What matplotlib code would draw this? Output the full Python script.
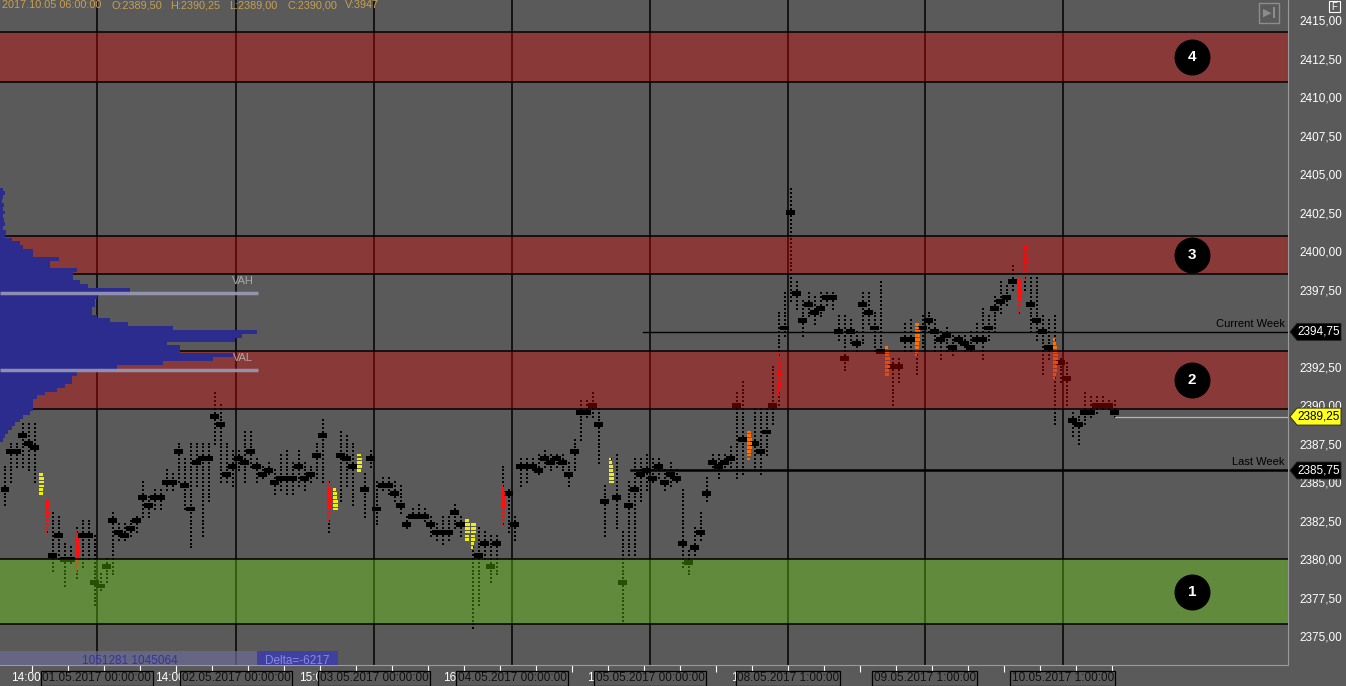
import numpy as np
import matplotlib
matplotlib.use('Agg')
import matplotlib.pyplot as plt
import matplotlib.transforms as mtransforms
from matplotlib.patches import Polygon, Rectangle

# footprint bars (one bar per column): high, low, point of control
bar_hi = [2386.0, 2387.5, 2387.5, 2388.75, 2388.75, 2388.75, 2385.5, 2383.75, 2383.0, 2382.75,
          2381.0, 2380.75, 2382.0, 2382.5, 2382.5, 2381.5, 2379.0, 2380.0, 2383.0, 2382.25,
          2382.25, 2382.5, 2382.75, 2385.0, 2384.0, 2384.5, 2384.5, 2385.75, 2385.5, 2387.5,
          2386.5, 2387.5, 2387.5, 2387.5, 2387.5, 2390.75, 2390.0, 2387.5, 2387.0, 2387.0,
          2388.25, 2388.25, 2386.5, 2386.0, 2386.25, 2385.75, 2386.75, 2387.0, 2386.25, 2387.0,
          2386.25, 2386.0, 2387.5, 2389.0, 2385.0, 2384.5, 2388.25, 2388.0, 2387.5, 2386.75,
          2385.5, 2387.0, 2385.0, 2385.25, 2385.25, 2385.0, 2384.75, 2382.75, 2383.25, 2383.5,
          2383.25, 2382.75, 2382.25, 2382.75, 2382.75, 2383.5, 2382.75, 2382.5, 2382.25, 2382.0,
          2381.75, 2381.5, 2381.5, 2386.0, 2384.5, 2382.75, 2386.5, 2386.5, 2386.5, 2386.75,
          2387.0, 2386.75, 2386.75, 2386.75, 2386.25, 2387.75, 2390.25, 2390.25, 2390.75, 2389.75,
          2384.75, 2386.5, 2386.75, 2381.75, 2385.0, 2386.5, 2386.5, 2386.75, 2386.5, 2386.5,
          2385.75, 2386.25, 2385.75, 2384.5, 2380.5, 2382.0, 2383.0, 2385.25, 2386.75, 2386.75,
          2386.75, 2387.25, 2390.75, 2391.5, 2388.25, 2389.75, 2389.75, 2389.75, 2392.5, 2396.0,
          2397.25, 2404.0, 2398.0, 2396.75, 2397.25, 2397.0, 2397.25, 2397.25, 2397.25, 2395.75,
          2395.75, 2395.5, 2394.75, 2397.25, 2397.25, 2396.0, 2398.0, 2393.75, 2393.0, 2393.0,
          2395.25, 2395.5, 2395.25, 2395.75, 2396.0, 2395.5, 2394.75, 2395.0, 2394.5, 2394.5,
          2394.5, 2394.75, 2395.25, 2396.25, 2395.75, 2397.0, 2398.0, 2397.75, 2399.0, 2398.25,
          2400.25, 2398.25, 2398.25, 2395.75, 2395.5, 2395.75, 2393.0, 2392.75, 2389.5, 2389.25,
          2390.75, 2390.5, 2390.5, 2390.5, 2390.25, 2390.25]
bar_lo = [2383.5, 2385.0, 2386.0, 2386.0, 2385.75, 2385.0, 2384.25, 2381.75, 2379.25, 2380.0,
          2378.25, 2379.75, 2378.75, 2379.5, 2380.0, 2377.0, 2378.0, 2378.5, 2379.0, 2381.25,
          2381.25, 2381.5, 2381.75, 2382.75, 2382.75, 2383.25, 2383.25, 2384.5, 2384.5, 2385.0,
          2383.25, 2380.75, 2384.75, 2381.5, 2383.75, 2387.5, 2385.0, 2385.0, 2384.75, 2385.75,
          2385.0, 2386.0, 2385.0, 2385.25, 2385.5, 2384.25, 2384.5, 2384.25, 2384.25, 2384.75,
          2384.5, 2385.0, 2385.25, 2385.0, 2381.75, 2383.25, 2383.75, 2384.75, 2383.5, 2385.75,
          2382.75, 2386.0, 2382.25, 2384.5, 2384.25, 2383.75, 2383.0, 2382.0, 2382.75, 2382.75,
          2382.5, 2381.5, 2381.25, 2381.0, 2381.25, 2382.0, 2381.5, 2381.25, 2375.5, 2377.0,
          2380.0, 2378.5, 2379.0, 2382.25, 2381.75, 2381.25, 2384.75, 2385.0, 2385.75, 2385.5,
          2386.0, 2385.75, 2386.0, 2385.75, 2384.75, 2385.75, 2387.75, 2389.25, 2389.25, 2386.25,
          2381.5, 2385.0, 2382.0, 2376.0, 2380.25, 2380.25, 2383.75, 2384.5, 2385.0, 2385.25,
          2384.5, 2384.75, 2385.0, 2379.5, 2379.0, 2380.25, 2381.25, 2383.75, 2385.75, 2385.25,
          2386.0, 2386.0, 2385.25, 2385.5, 2386.5, 2385.75, 2385.5, 2386.75, 2388.75, 2390.0,
          2394.5, 2396.75, 2396.25, 2394.5, 2395.75, 2395.25, 2395.75, 2396.5, 2396.25, 2394.25,
          2392.25, 2394.0, 2393.5, 2394.0, 2395.25, 2393.5, 2393.5, 2392.0, 2390.0, 2391.5,
          2393.5, 2393.5, 2392.0, 2393.75, 2394.75, 2393.5, 2393.0, 2393.5, 2393.25, 2394.0,
          2393.5, 2393.5, 2394.0, 2393.0, 2394.25, 2394.75, 2396.0, 2396.5, 2397.5, 2396.0,
          2397.5, 2394.75, 2394.25, 2392.0, 2393.0, 2388.75, 2391.5, 2390.0, 2388.0, 2387.5,
          2388.75, 2389.25, 2389.5, 2389.75, 2389.75, 2389.25]
bar_poc = [2384.5, 2387.0, 2387.0, 2388.0, 2387.5, 2387.25, 2385.0, 2383.0, 2380.25, 2381.5,
           2380.0, 2380.0, 2380.5, 2381.5, 2381.5, 2378.5, 2378.25, 2379.5, 2382.5, 2381.75,
           2381.5, 2382.0, 2382.5, 2384.0, 2383.5, 2384.0, 2384.0, 2385.0, 2385.0, 2387.0,
           2384.75, 2383.25, 2386.25, 2386.5, 2386.5, 2389.25, 2388.75, 2385.5, 2386.0, 2386.5,
           2386.25, 2387.0, 2386.0, 2385.5, 2385.75, 2385.0, 2385.25, 2385.25, 2385.25, 2386.0,
           2385.25, 2385.5, 2386.75, 2388.0, 2383.75, 2383.5, 2386.75, 2386.5, 2386.0, 2386.25,
           2384.5, 2386.5, 2383.25, 2384.75, 2384.75, 2384.25, 2383.5, 2382.25, 2382.75, 2382.75,
           2382.75, 2382.25, 2381.75, 2381.75, 2381.75, 2383.0, 2382.25, 2382.0, 2382.0, 2380.25,
           2381.0, 2379.5, 2381.0, 2383.5, 2384.25, 2382.25, 2386.0, 2386.0, 2386.0, 2385.75,
           2386.5, 2386.25, 2386.5, 2386.25, 2385.5, 2387.0, 2389.5, 2389.5, 2390.0, 2388.75,
           2383.75, 2385.25, 2384.0, 2378.5, 2383.5, 2384.5, 2385.5, 2385.75, 2385.25, 2386.0,
           2385.0, 2385.5, 2385.25, 2381.0, 2379.75, 2380.75, 2381.75, 2384.25, 2386.25, 2386.0,
           2386.25, 2386.5, 2390.0, 2387.75, 2387.5, 2387.5, 2387.0, 2388.25, 2390.0, 2392.0,
           2395.0, 2402.5, 2397.25, 2395.5, 2396.5, 2396.0, 2396.25, 2397.0, 2397.0, 2394.75,
           2393.0, 2394.75, 2394.0, 2396.5, 2396.0, 2395.0, 2393.5, 2392.75, 2392.5, 2392.5,
           2394.25, 2394.25, 2394.5, 2395.0, 2395.5, 2394.75, 2394.25, 2394.5, 2393.75, 2394.25,
           2394.0, 2393.75, 2394.25, 2394.25, 2395.0, 2396.25, 2396.75, 2397.0, 2398.0, 2397.25,
           2399.5, 2396.5, 2395.5, 2394.75, 2393.75, 2393.0, 2392.75, 2391.75, 2389.0, 2388.75,
           2389.5, 2389.5, 2390.0, 2390.0, 2390.0, 2389.5]
# bars highlighted by the footprint (0-based bar index -> kind)
hl_idx = [6, 7, 12, 54, 55, 59, 77, 78, 83, 101, 124, 129, 147, 152, 169, 170, 175]
hl_kind = ['y', 'r', 'r', 'r', 'y', 'y', 'y', 'y', 'r', 'y', 'o', 'r', 'o', 'o', 'r', 'r', 'o']

# volume profile (left side)
prof_top = 2404.0
prof_vol = [3, 5, 3, 2, 4, 3, 5, 3, 4, 5, 3, 6, 5, 12, 20, 23, 33, 33, 59, 50,
            50, 77, 73, 73, 80, 88, 130, 130, 97, 95, 95, 92, 92, 97, 110, 128, 173, 257, 242, 235,
            167, 180, 180, 233, 213, 163, 117, 117, 77, 72, 72, 65, 57, 45, 37, 33, 33, 33, 30, 23,
            20, 15, 12, 8, 5, 3]
vah, val = 2397.25, 2392.25

# zones
zone_lo = [2375.75, 2389.75, 2398.5, 2411.0]
zone_hi = [2380.0, 2393.5, 2401.0, 2414.25]
zone_col = ['#6ee00c', '#e10000', '#e10000', '#e10000']
zone_num = ['1', '2', '3', '4']

current_week = 2394.75
last_week = 2385.75
last_price = 2389.25

session_x = [15.3, 38.5, 61.5, 84.5, 107.5, 130.5, 153.3, 176.3]
date_labels = ['01.05.2017 00:00:00', '02.05.2017 00:00:00', '03.05.2017 00:00:00',
               '04.05.2017 00:00:00', '05.05.2017 00:00:00', '08.05.2017 1:00:00',
               '09.05.2017 1:00:00', '10.05.2017 1:00:00']
time_x = [3.5, 27.5, 51.5, 75.5, 99.5, 123.5, 147.5, 171.5]
time_labels = ['14:00', '14:00', '15:00', '16:00', '17:00', '18:00', '19:00', '20:00']

W, H = 1346, 686
BG = '#5a5a5a'
plt.rcParams['font.family'] = ['Liberation Sans', 'DejaVu Sans']

fig = plt.figure(figsize=(W / 100, H / 100), dpi=100, facecolor=BG)
ax = fig.add_axes([0, 21 / H, 1288 / W, 665 / H])
ax.set_facecolor(BG)
ax.set_xlim(-5 / 6, 1283 / 6)
ax.set_ylim(2373.12, 2416.30)

n = len(bar_hi)
kinds = ['k'] * n
for i, k in zip(hl_idx, hl_kind):
    kinds[i] = k
cmap = {'k': 'black', 'y': '#f0f000', 'r': '#ff1010', 'o': '#ff7000'}

for i in range(n):
    lv = np.arange(bar_lo[i], bar_hi[i] + 0.01, 0.25)
    c = cmap[kinds[i]]
    ax.plot(np.full(len(lv), i), lv, 's', ms=1.6, mew=0, color='black', zorder=3)
    if kinds[i] == 'k':
        ax.add_patch(Rectangle((i - 0.75, bar_poc[i] - 0.16), 1.5, 0.32,
                               color='black', lw=0, zorder=3))
    else:
        for l in lv:
            d = abs(l - bar_poc[i])
            if d <= 1.25:
                ww = max(0.15, 1 - d / 1.4)
                ax.add_patch(Rectangle((i - 0.25, l - 0.09), 0.25 + 0.55 * ww, 0.18,
                                       color=c, lw=0, zorder=4))
        if kinds[i] == 'r':
            ax.plot(i + 0.35, bar_poc[i], '>', ms=5, mew=0, color=c, zorder=4)

# zones on top of the bars
for lo, hi, col, num in zip(zone_lo, zone_hi, zone_col, zone_num):
    ax.axhspan(lo, hi, color=col, alpha=0.36, lw=0, zorder=5)
    ax.axhline(lo, color='black', lw=1.1, zorder=6)
    ax.axhline(hi, color='black', lw=1.1, zorder=6)
    ax.scatter([197.8], [(lo + hi) / 2], s=620, color='black', zorder=7)
    ax.text(197.8, (lo + hi) / 2, num, color='white', fontsize=11, fontweight='bold',
            ha='center', va='center', zorder=8)

for sx in session_x:
    ax.axvline(sx, color='black', lw=1.1, zorder=2)

# volume profile
prof_lv = prof_top - 0.25 * np.arange(len(prof_vol))
scale = (257 / 6) / max(prof_vol)
ax.barh(prof_lv, np.array(prof_vol) * scale, height=0.25, left=-5 / 6,
        color='#2c2c8e', lw=0, zorder=6)
for lvl, name in [(vah, 'VAH'), (val, 'VAL')]:
    ax.plot([-5 / 6, 253 / 6], [lvl, lvl], color='#9a9ab8', lw=2.5, alpha=0.9, zorder=7,
            solid_capstyle='butt')
    ax.text(243 / 6 - 5 / 6, lvl + 0.45, name, color='#a8a8a8', fontsize=8,
            ha='center', va='bottom', zorder=7)

# weekly levels
ax.plot([106.3, 214], [current_week] * 2, color='black', lw=1.0, zorder=6)
ax.plot([104.3, 214], [last_week] * 2, color='black', lw=1.8, zorder=6)
ax.plot([n - 1, 214], [last_price] * 2, color='#b4b4b4', lw=0.9, zorder=6)
ax.text(1285 / 6 - 5 / 6, current_week + 0.2, 'Current Week', color='black', fontsize=8,
        ha='right', va='bottom', zorder=7)
ax.text(1285 / 6 - 5 / 6, last_week + 0.2, 'Last Week', color='black', fontsize=8,
        ha='right', va='bottom', zorder=7)

# right price axis
ax.yaxis.tick_right()
yt = np.arange(2375, 2415.1, 2.5)
ax.set_yticks(yt)
ax.set_yticklabels([f'{v:.2f}'.replace('.', ',') for v in yt])
ax.tick_params(axis='y', length=0, pad=8, labelcolor='white', labelsize=8.5)
for s in ['left', 'top']:
    ax.spines[s].set_visible(False)
ax.spines['right'].set_color('#9a9a9a')
ax.spines['bottom'].set_color('#9a9a9a')

# price tags
tr = mtransforms.blended_transform_factory(ax.transAxes, ax.transData)
for price, fc, tc in [(current_week, 'black', 'white'), (last_price, '#ffff20', 'black'),
                      (last_week, 'black', 'white')]:
    hh = 0.55
    pts = [(1290 / 1288, price), (1297 / 1288, price + hh), (1341 / 1288, price + hh),
           (1341 / 1288, price - hh), (1297 / 1288, price - hh)]
    ax.add_patch(Polygon(pts, closed=True, transform=tr, fc=fc, ec='#202020', lw=0.6,
                         clip_on=False, zorder=9))
    ax.text(1319 / 1288, price, f'{price:.2f}'.replace('.', ','), transform=tr, color=tc,
            fontsize=8.5, ha='center', va='center', clip_on=False, zorder=10)

# bottom axis
ticks = np.arange(4.5, n, 6)
ax.set_xticks(ticks)
ax.set_xticklabels([])
ax.tick_params(axis='x', length=5, color='white', width=0.8)
trx = mtransforms.blended_transform_factory(ax.transData, ax.transAxes)
for tx, tl in zip(time_x, time_labels):
    ax.text(tx, -0.02, tl, transform=trx, color='white', fontsize=8.5, ha='center',
            va='center', clip_on=False)
for sx, dl in zip(session_x, date_labels):
    ax.text(sx, -0.02, dl, transform=trx, color='#101010', fontsize=8.5, ha='center',
            va='center', clip_on=False,
            bbox=dict(boxstyle='square,pad=0.12', fc=BG, ec='black', lw=0.9))

# delta strip
fig.patches.append(Rectangle((0, 21 / H), 338 / W, 14 / H, transform=fig.transFigure,
                             fc='#6c6c96', alpha=0.7, lw=0, zorder=5))
fig.patches.append(Rectangle((257 / W, 21 / H), 81 / W, 14 / H, transform=fig.transFigure,
                             fc='#3a3aa6', alpha=0.85, lw=0, zorder=6))
fig.text(130 / W, 1 - 661 / H, '1051281 1045064', color='#34349a', fontsize=8.5,
         ha='center', va='center', zorder=7)
fig.text(297 / W, 1 - 661 / H, 'Delta=-6217', color='#8a8ae0', fontsize=8.5,
         ha='center', va='center', zorder=7)

# header
hdr = [(2, '2017.10.05 06:00:00'), (111, 'O:2389,50'), (170, 'H:2390,25'),
       (229, 'L:2389,00'), (288, 'C:2390,00'), (345, 'V:3947')]
for hx, ht in hdr:
    fig.text(hx / W, 1 - 5 / H, ht, color='#c8a050', fontsize=7.8, ha='left', va='center',
             zorder=1)

# corner icons
fig.patches.append(Rectangle((1259 / W, 1 - 23 / H), 20 / W, 20 / H, transform=fig.transFigure,
                             fill=False, ec='#8c8c8c', lw=1))
fig.text(1267 / W, 1 - 13 / H, '\u25b6', color='#8c8c8c', fontsize=8, ha='center', va='center')
fig.patches.append(Rectangle((1273 / W, 1 - 18 / H), 2 / W, 11 / H, transform=fig.transFigure,
                             fc='#8c8c8c', lw=0))
fig.patches.append(Rectangle((1329 / W, 1 - 12 / H), 11 / W, 11 / H, transform=fig.transFigure,
                             fill=False, ec='white', lw=0.8))
fig.text(1334.5 / W, 1 - 6.5 / H, 'F', color='white', fontsize=7, ha='center', va='center')

fig.savefig('out.png', dpi=100, facecolor=BG)
